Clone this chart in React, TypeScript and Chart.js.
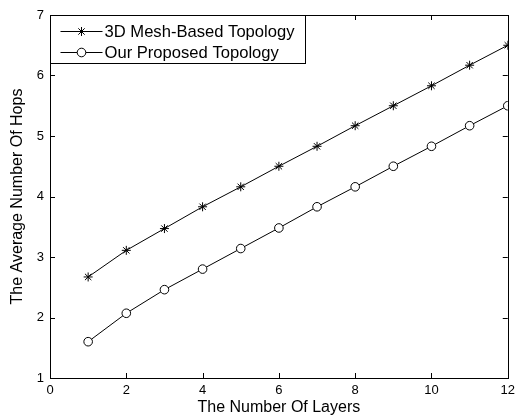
import React, { useEffect, useRef } from 'react';
import { Chart, registerables } from 'chart.js';

Chart.register(...registerables);

const layers = [1, 2, 3, 4, 5, 6, 7, 8, 9, 10, 11, 12];
const meshHops = [2.67, 3.11, 3.47, 3.83, 4.16, 4.5, 4.83, 5.17, 5.5, 5.83, 6.17, 6.5];
const proposedHops = [1.6, 2.07, 2.46, 2.8, 3.14, 3.48, 3.83, 4.16, 4.5, 4.83, 5.17, 5.5];
const seriesLabels = ['3D Mesh-Based Topology', 'Our Proposed Topology'];
const xTicks = [0, 2, 4, 6, 8, 10, 12];
const yTicks = [1, 2, 3, 4, 5, 6, 7];
const xTitle = 'The Number Of Layers';
const yTitle = 'The Average Number Of Hops';

const FONT = '"Liberation Sans", Arial, Helvetica, sans-serif';

const framePlugin = {
  id: 'frameTicks',
  afterDraw(chart: any) {
    const { ctx, chartArea: a, scales } = chart;
    const xs = scales.x;
    const ys = scales.y;
    ctx.save();
    ctx.strokeStyle = '#000';
    ctx.lineWidth = 1;
    ctx.strokeRect(Math.round(a.left) + 0.5, Math.round(a.top) + 0.5, Math.round(a.right - a.left), Math.round(a.bottom - a.top));
    const tl = 5;
    ctx.beginPath();
    for (const v of xTicks) {
      const px = Math.round(xs.getPixelForValue(v)) + 0.5;
      ctx.moveTo(px, a.bottom);
      ctx.lineTo(px, a.bottom - tl);
      ctx.moveTo(px, a.top);
      ctx.lineTo(px, a.top + tl);
    }
    for (const v of yTicks) {
      const py = Math.round(ys.getPixelForValue(v)) + 0.5;
      ctx.moveTo(a.left, py);
      ctx.lineTo(a.left + tl, py);
      ctx.moveTo(a.right, py);
      ctx.lineTo(a.right - tl, py);
    }
    ctx.stroke();

    // legend box inside the plot area (top-left)
    const bx = Math.round(a.left) + 0.5;
    const by = Math.round(a.top) + 0.5;
    const bw = 255;
    const bh = 48;
    ctx.fillStyle = '#fff';
    ctx.fillRect(bx, by, bw, bh);
    ctx.strokeRect(bx, by, bw, bh);
    const rows = [by + 15, by + 36];
    chart.data.datasets.forEach((ds: any, i: number) => {
      const y = Math.round(rows[i]) + 0.5;
      ctx.beginPath();
      ctx.moveTo(bx + 10, y);
      ctx.lineTo(bx + 52, y);
      ctx.strokeStyle = '#000';
      ctx.stroke();
      const mx = bx + 31;
      const r = ds.pointRadius;
      ctx.beginPath();
      if (ds.pointStyle === 'circle') {
        ctx.arc(mx, y, r, 0, Math.PI * 2);
        ctx.fillStyle = '#fff';
        ctx.fill();
        ctx.stroke();
      } else {
        const d = r * Math.SQRT1_2;
        ctx.moveTo(mx - r, y); ctx.lineTo(mx + r, y);
        ctx.moveTo(mx, y - r); ctx.lineTo(mx, y + r);
        ctx.moveTo(mx - d, y - d); ctx.lineTo(mx + d, y + d);
        ctx.moveTo(mx - d, y + d); ctx.lineTo(mx + d, y - d);
        ctx.stroke();
      }
      ctx.fillStyle = '#000';
      ctx.font = `16.6px ${FONT}`;
      ctx.textBaseline = 'middle';
      ctx.textAlign = 'left';
      ctx.fillText(ds.label, bx + 54, y + 1);
    });
    ctx.restore();
  },
};

export default function App() {
  const ref = useRef<HTMLCanvasElement | null>(null);
  useEffect(() => {
    document.body.style.margin = '0';
    const canvas = ref.current;
    if (!canvas) return;
    const chart = new Chart(canvas, {
      type: 'line',
      data: {
        datasets: [
          {
            label: seriesLabels[0],
            data: layers.map((x, i) => ({ x, y: meshHops[i] })),
            borderColor: '#000',
            borderWidth: 1,
            pointStyle: 'star',
            pointRadius: 4.5,
            pointBorderColor: '#000',
            pointBorderWidth: 1,
            pointBackgroundColor: '#000',
            fill: false,
            tension: 0,
          },
          {
            label: seriesLabels[1],
            data: layers.map((x, i) => ({ x, y: proposedHops[i] })),
            borderColor: '#000',
            borderWidth: 1,
            pointStyle: 'circle',
            pointRadius: 4.3,
            pointBorderColor: '#000',
            pointBorderWidth: 1,
            pointBackgroundColor: '#fff',
            fill: false,
            tension: 0,
          },
        ],
      },
      options: {
        responsive: false,
        animation: false,
        devicePixelRatio: 1,
        layout: { padding: { left: 0, top: 15, right: 10, bottom: 0 } },
        plugins: {
          legend: { display: false },
          tooltip: { enabled: false },
        },
        scales: {
          x: {
            type: 'linear',
            min: 0,
            max: 12,
            grid: { display: false, drawTicks: false },
            border: { display: false },
            afterBuildTicks: (s: any) => { s.ticks = xTicks.map((v) => ({ value: v })); },
            afterFit: (s: any) => { s.height = 40; },
            ticks: { color: '#000', padding: 5, maxRotation: 0, font: { family: FONT, size: 13 } },
            title: { display: true, text: xTitle, color: '#000', padding: { top: 0, bottom: 1 }, font: { family: FONT, size: 16 } },
          },
          y: {
            type: 'linear',
            min: 1,
            max: 7,
            grid: { display: false, drawTicks: false },
            border: { display: false },
            afterBuildTicks: (s: any) => { s.ticks = yTicks.map((v) => ({ value: v })); },
            afterFit: (s: any) => { s.width = 50; },
            ticks: { color: '#000', padding: 6, font: { family: FONT, size: 13 } },
            title: { display: true, text: yTitle, color: '#000', padding: { top: 8, bottom: 0 }, font: { family: FONT, size: 16 } },
          },
        },
      },
      plugins: [framePlugin],
    } as any);
    return () => chart.destroy();
  }, []);
  return <canvas ref={ref} width={520} height={418} style={{ display: 'block', width: 520, height: 418 }} />;
}
